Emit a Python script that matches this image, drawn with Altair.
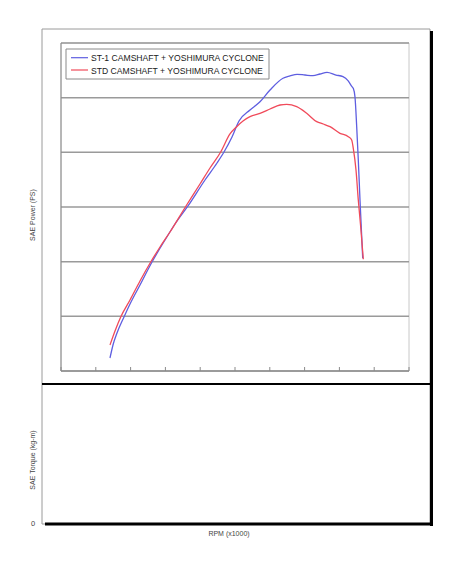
import altair as alt
import pandas as pd

# ---- data ----
series_st1 = "ST-1 CAMSHAFT + YOSHIMURA CYCLONE"
series_std = "STD CAMSHAFT + YOSHIMURA CYCLONE"

st1_rpm = [3.408, 3.494, 3.609, 3.810, 3.983, 4.270, 4.615, 4.989, 5.276, 5.649,
           6.138, 6.483, 6.684, 6.914, 7.115, 7.431, 7.718, 8.006, 8.379, 8.580,
           8.782, 9.011, 9.241, 9.443, 9.644, 9.902, 10.103, 10.247, 10.362, 10.399,
           10.448, 10.497, 10.543, 10.592, 10.670]
st1_ps = [0.476, 0.951, 1.390, 1.976, 2.451, 3.146, 3.988, 4.793, 5.378, 6.037,
          6.988, 7.610, 8.012, 8.561, 9.146, 9.549, 9.852, 10.280, 10.709, 10.793,
          10.855, 10.829, 10.804, 10.866, 10.928, 10.829, 10.767, 10.621, 10.401, 10.343,
          10.024, 8.938, 7.720, 6.256, 4.123]

std_rpm = [3.408, 3.552, 3.716, 3.983, 4.270, 4.578, 4.845, 5.132, 5.592, 5.994,
           6.282, 6.589, 6.856, 7.049, 7.230, 7.431, 7.718, 8.006, 8.293, 8.486,
           8.773, 9.060, 9.348, 9.537, 9.730, 10.017, 10.256, 10.353, 10.399, 10.477,
           10.543, 10.612, 10.687]
std_ps = [0.951, 1.463, 1.976, 2.598, 3.293, 3.988, 4.537, 5.085, 6.037, 6.841,
          7.427, 8.012, 8.671, 8.938, 9.146, 9.304, 9.428, 9.585, 9.732, 9.757,
          9.670, 9.428, 9.121, 9.037, 8.938, 8.696, 8.572, 8.451, 8.148, 7.354,
          6.256, 5.279, 4.086]

x_ticks = [2, 3, 4, 5, 6, 7, 8, 9, 10, 11, 12]
y_grid = [0, 2, 4, 6, 8, 10, 12]

series_names = [series_st1, series_std]
series_colors = ["#5e5ee0", "#f04a5a"]

rows = []
for i, (r, p) in enumerate(zip(st1_rpm, st1_ps)):
    rows.append({"series": series_st1, "rpm": r, "ps": p, "order": i})
for i, (r, p) in enumerate(zip(std_rpm, std_ps)):
    rows.append({"series": series_std, "rpm": r, "ps": p, "order": i})
df = pd.DataFrame(rows)

W, H = 348, 328
one = pd.DataFrame({"a": [0]})

xscale = alt.Scale(domain=[2, 12], nice=False, zero=False)
yscale = alt.Scale(domain=[0, 12], nice=False, zero=False)

# ---- frames (decoration) ----
frame_top = alt.Chart(one).mark_rect(fill="white", stroke="#9a9a9a", strokeWidth=1).encode(
    x=alt.value(-19), x2=alt.value(369), y=alt.value(-14), y2=alt.value(341))
frame_bot = alt.Chart(one).mark_rect(fill="white", stroke="#9a9a9a", strokeWidth=1).encode(
    x=alt.value(-19), x2=alt.value(369), y=alt.value(341), y2=alt.value(481))
plot_bg = alt.Chart(one).mark_rect(fill="white", stroke="#c8c8c8", strokeWidth=1).encode(
    x=alt.value(0), x2=alt.value(W), y=alt.value(0), y2=alt.value(H))
divider = alt.Chart(one).mark_rect(fill="black").encode(
    x=alt.value(-19), x2=alt.value(369), y=alt.value(340), y2=alt.value(342))
shadow_r = alt.Chart(one).mark_rect(fill="black").encode(
    x=alt.value(369), x2=alt.value(372), y=alt.value(-12), y2=alt.value(483))
shadow_b = alt.Chart(one).mark_rect(fill="black").encode(
    x=alt.value(-16), x2=alt.value(372), y=alt.value(479.5), y2=alt.value(482.5))

grid = alt.Chart(pd.DataFrame({"g": y_grid})).mark_rule(color="#9a9a9a", strokeWidth=1.5).encode(
    y=alt.Y("g:Q", scale=yscale, axis=None),
    x=alt.value(0), x2=alt.value(W))

left_line = alt.Chart(one).mark_rule(color="#8a8a8a", strokeWidth=1).encode(
    x=alt.value(0), y=alt.value(0), y2=alt.value(H))
bottom_line = alt.Chart(one).mark_rule(color="#8a8a8a", strokeWidth=1.2).encode(
    x=alt.value(0), x2=alt.value(W), y=alt.value(H))

ticks = alt.Chart(pd.DataFrame({"t": x_ticks})).mark_rule(color="#8a8a8a", strokeWidth=1).encode(
    x=alt.X("t:Q", scale=xscale, axis=None),
    y=alt.value(H - 4), y2=alt.value(H))

lines = alt.Chart(df).mark_line(strokeWidth=1.3, clip=False, interpolate="monotone").encode(
    x=alt.X("rpm:Q", scale=xscale, axis=None),
    y=alt.Y("ps:Q", scale=yscale, axis=None),
    order="order:Q",
    color=alt.Color("series:N",
                    scale=alt.Scale(domain=series_names, range=series_colors),
                    legend=None))

# ---- legend (drawn by hand, from the series arrays) ----
leg_box = alt.Chart(one).mark_rect(fill="white", stroke="#8a8a8a", strokeWidth=1).encode(
    x=alt.value(5), x2=alt.value(208), y=alt.value(6), y2=alt.value(36))
leg_layers = [leg_box]
leg_rows_y = [14.7, 27.0]
for name, col, ly in zip(series_names, series_colors, leg_rows_y):
    leg_layers.append(alt.Chart(one).mark_rule(color=col, strokeWidth=1.2).encode(
        x=alt.value(10), x2=alt.value(27), y=alt.value(ly)))
    leg_layers.append(alt.Chart(one).mark_text(
        text=name, font="Liberation Sans", fontSize=8.6, color="#1a1a1a",
        align="left", baseline="middle").encode(x=alt.value(30), y=alt.value(ly + 0.5)))

def label(txt, x, y, angle=0, size=7):
    return alt.Chart(one).mark_text(text=txt, font="Liberation Sans", fontSize=size,
                                    color="#444444", angle=angle, align="center",
                                    baseline="middle").encode(x=alt.value(x), y=alt.value(y))

t_power = label("SAE Power (PS)", -28, 172, angle=270)
t_torque = label("SAE Torque (kg-m)", -28, 417, angle=270)
t_rpm = label("RPM (x1000)", 168, 491)
t_zero = label("0", -28, 481, size=7.5)

chart = alt.layer(
    frame_top, frame_bot, shadow_r, shadow_b, divider, plot_bg, grid, left_line, bottom_line,
    ticks, lines, *leg_layers, t_power, t_torque, t_rpm, t_zero
).properties(
    width=W, height=H,
    padding={"left": 61, "top": 43, "right": 43, "bottom": 213},
    autosize=alt.AutoSizeParams(type="none")
).configure_view(stroke=None).configure(background="white")

chart.save("out.html", embed_options={"renderer": "svg", "actions": False})
